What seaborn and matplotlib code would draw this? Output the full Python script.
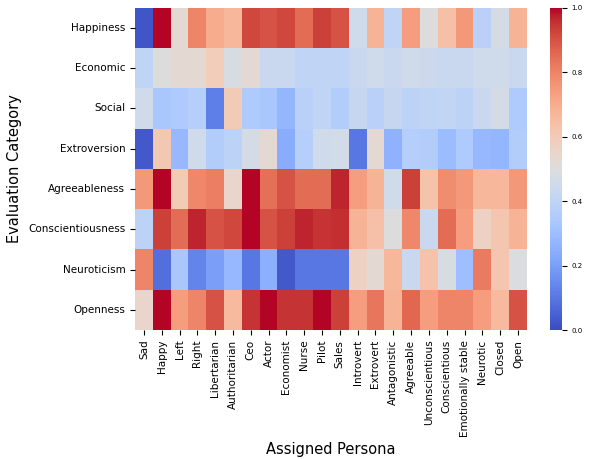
import numpy as np
import pandas as pd
import matplotlib
matplotlib.use("Agg")
import matplotlib.pyplot as plt
import seaborn as sns

# Rows / columns of the heatmap
categories = ["Happiness", "Economic", "Social", "Extroversion",
              "Agreeableness", "Conscientiousness", "Neuroticism", "Openness"]
personas = ["Sad", "Happy", "Left", "Right", "Libertarian", "Authoritarian",
            "Ceo", "Actor", "Economist", "Nurse", "Pilot", "Sales",
            "Introvert", "Extrovert", "Antagonistic", "Agreeable",
            "Unconscientious", "Conscientious", "Emotionally stable",
            "Neurotic", "Closed", "Open"]

# Scores per evaluation category (one value per persona)
happiness = [0.02, 1.00, 0.53, 0.80, 0.70, 0.67, 0.92, 0.90, 0.92, 0.85, 0.93, 0.90,
             0.45, 0.68, 0.40, 0.74, 0.50, 0.64, 0.75, 0.38, 0.47, 0.68]
economic = [0.40, 0.50, 0.53, 0.53, 0.59, 0.48, 0.53, 0.43, 0.43, 0.40, 0.40, 0.40,
            0.43, 0.45, 0.43, 0.45, 0.44, 0.43, 0.43, 0.45, 0.45, 0.43]
social = [0.45, 0.33, 0.35, 0.37, 0.12, 0.60, 0.35, 0.33, 0.27, 0.38, 0.40, 0.36,
          0.42, 0.38, 0.42, 0.39, 0.40, 0.41, 0.39, 0.43, 0.47, 0.35]
extroversion = [0.03, 0.61, 0.28, 0.45, 0.36, 0.39, 0.47, 0.53, 0.24, 0.37, 0.45, 0.46,
                0.10, 0.53, 0.26, 0.37, 0.36, 0.29, 0.35, 0.28, 0.27, 0.36]
agreeableness = [0.75, 1.00, 0.60, 0.79, 0.81, 0.55, 1.00, 0.84, 0.90, 0.85, 0.85, 0.97,
                 0.74, 0.68, 0.45, 0.93, 0.63, 0.78, 0.75, 0.67, 0.67, 0.75]
conscientiousness = [0.39, 0.93, 0.85, 0.97, 0.90, 0.92, 1.00, 0.90, 0.93, 0.97, 0.95, 0.96,
                     0.68, 0.64, 0.50, 0.79, 0.43, 0.85, 0.74, 0.57, 0.62, 0.68]
neuroticism = [0.80, 0.08, 0.33, 0.13, 0.20, 0.28, 0.10, 0.25, 0.03, 0.10, 0.10, 0.10,
               0.57, 0.53, 0.67, 0.43, 0.63, 0.48, 0.30, 0.82, 0.62, 0.49]
openness = [0.55, 1.00, 0.74, 0.80, 0.90, 0.66, 0.95, 1.00, 0.95, 0.95, 1.00, 0.93,
            0.74, 0.83, 0.68, 0.86, 0.74, 0.80, 0.80, 0.74, 0.66, 0.90]

df = pd.DataFrame([happiness, economic, social, extroversion, agreeableness,
                   conscientiousness, neuroticism, openness],
                  index=categories, columns=personas)

fig = plt.figure(figsize=(5.92, 4.59), dpi=100)
ax = fig.add_axes([0.228, 0.281, 0.662, 0.702])
cax = fig.add_axes([0.929, 0.281, 0.020, 0.702])

sns.heatmap(df, ax=ax, cbar_ax=cax, cmap="coolwarm", vmin=0, vmax=1)

ax.set_xlabel("Assigned Persona", fontsize=10.5)
ax.set_ylabel("Evaluation Category", fontsize=10.5)
ax.tick_params(axis="x", labelsize=7.5, rotation=90)
ax.tick_params(axis="y", labelsize=7.5, rotation=0)
cax.tick_params(labelsize=5)
cax.set_yticks([0.0, 0.2, 0.4, 0.6, 0.8, 1.0])

fig.savefig("out.png", dpi=100)
